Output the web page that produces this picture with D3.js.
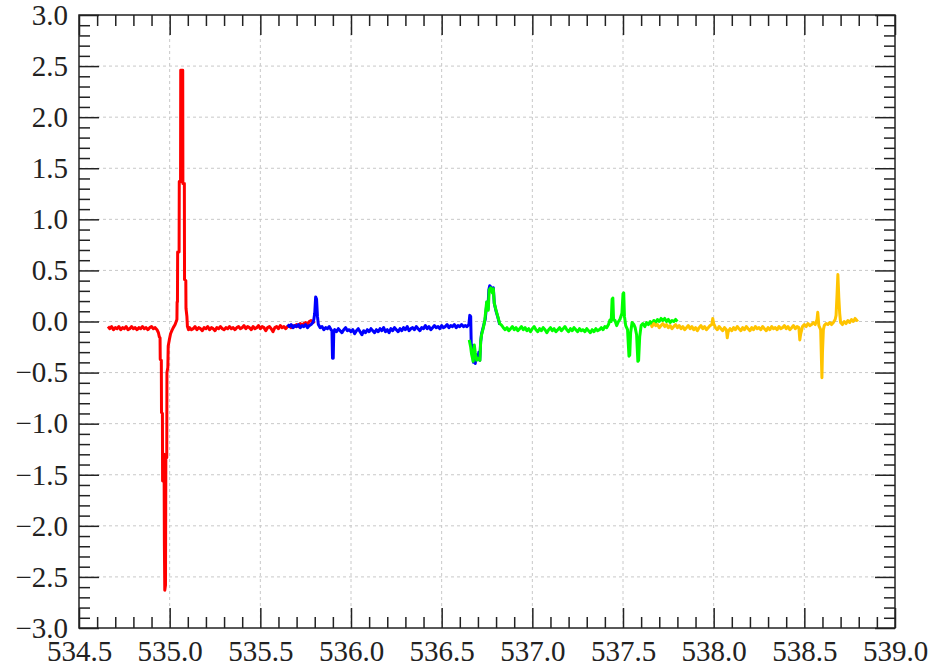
<!DOCTYPE html>
<html>
<head>
<meta charset="utf-8">
<script src="https://cdn.jsdelivr.net/npm/d3@7"></script>
<style>
  body { margin: 0; background: #fff; }
  .tick line { stroke: #222; stroke-width: 1.5; }
  .domain { display: none; }
</style>
</head>
<body>
<div id="chart"></div>
<script>
const width = 943
const height = 668
const margin = { top: 15, bottom: 40, left: 79, right: 48 }

// spectrum segments, [position, signal]
const redSeries = [
  [534.66,-0.05],[534.67,-0.07],[534.68,-0.05],[534.69,-0.08],[534.70,-0.06],[534.71,-0.07],[534.72,-0.05],
  [534.73,-0.08],[534.74,-0.06],[534.75,-0.07],[534.76,-0.05],[534.77,-0.08],[534.78,-0.07],[534.79,-0.05],
  [534.80,-0.07],[534.81,-0.06],[534.82,-0.08],[534.83,-0.06],[534.84,-0.07],[534.85,-0.05],[534.86,-0.07],
  [534.87,-0.06],[534.88,-0.08],[534.89,-0.06],[534.90,-0.05],[534.91,-0.07],[534.92,-0.06],[534.93,-0.08],
  [534.938,-0.11],[534.943,-0.15],[534.947,-0.16],[534.948,-0.37],[534.954,-0.38],[534.955,-0.89],[534.960,-0.90],
  [534.961,-1.56],[534.964,-1.40],[534.967,-1.56],[534.969,-1.30],[534.971,-2.20],[534.973,-2.63],[534.977,-2.58],
  [534.979,-1.34],[534.984,-1.33],[534.985,-0.50],[534.990,-0.45],[534.992,-0.24],[534.998,-0.18],[535.005,-0.12],
  [535.012,-0.09],[535.020,-0.06],[535.030,-0.03],[535.036,0.00],[535.040,0.02],[535.041,0.19],[535.043,0.19],
  [535.044,0.68],[535.052,0.68],[535.053,1.37],[535.060,1.37],[535.061,2.46],[535.072,2.46],[535.073,1.35],
  [535.081,1.35],[535.082,0.41],[535.089,0.40],[535.090,0.13],[535.095,0.05],[535.098,-0.05],[535.104,-0.08],
  [535.11,-0.06],[535.12,-0.08],[535.13,-0.07],[535.14,-0.05],[535.15,-0.08],[535.16,-0.06],[535.17,-0.07],
  [535.18,-0.09],[535.19,-0.06],[535.20,-0.07],[535.21,-0.05],[535.22,-0.08],[535.23,-0.06],[535.24,-0.07],
  [535.25,-0.09],[535.26,-0.06],[535.27,-0.07],[535.28,-0.05],[535.29,-0.07],[535.30,-0.08],[535.31,-0.06],
  [535.32,-0.07],[535.33,-0.05],[535.34,-0.07],[535.35,-0.06],[535.36,-0.08],[535.37,-0.06],[535.38,-0.05],
  [535.39,-0.07],[535.40,-0.06],[535.41,-0.04],[535.42,-0.07],[535.43,-0.05],[535.44,-0.06],[535.45,-0.08],
  [535.46,-0.05],[535.47,-0.07],[535.48,-0.06],[535.49,-0.04],[535.50,-0.07],[535.51,-0.05],[535.52,-0.06],
  [535.53,-0.09],[535.54,-0.06],[535.55,-0.05],[535.56,-0.07],[535.57,-0.10],[535.58,-0.06],[535.59,-0.05],
  [535.60,-0.07],[535.61,-0.04],[535.62,-0.06],[535.63,-0.05],[535.64,-0.07],[535.65,-0.05],[535.66,-0.04],
  [535.67,-0.06],[535.68,-0.04],[535.69,-0.05],[535.70,-0.03],[535.71,-0.05],[535.72,-0.02],[535.73,-0.04],
  [535.74,-0.02],[535.75,-0.01],[535.76,-0.03],[535.77,0.00],[535.78,0.01],[535.79,-0.01],[535.80,0.00]
]

const blueSeries = [
  [535.65,-0.03],[535.66,-0.05],[535.67,-0.03],[535.68,-0.06],[535.69,-0.04],[535.70,-0.05],[535.71,-0.03],
  [535.72,-0.06],[535.73,-0.04],[535.74,-0.05],[535.75,-0.03],[535.76,-0.06],[535.77,-0.04],[535.78,-0.03],
  [535.79,-0.01],[535.795,0.02],[535.80,0.08],[535.805,0.24],[535.81,0.22],[535.815,0.05],[535.82,-0.03],
  [535.83,-0.06],[535.84,-0.05],[535.85,-0.08],[535.86,-0.06],[535.87,-0.07],[535.88,-0.05],[535.89,-0.08],
  [535.895,-0.09],[535.898,-0.36],[535.902,-0.36],[535.905,-0.10],[535.91,-0.08],[535.92,-0.10],[535.93,-0.07],
  [535.94,-0.09],[535.95,-0.11],[535.96,-0.08],[535.97,-0.06],[535.98,-0.09],[535.99,-0.08],[536.00,-0.10],
  [536.01,-0.08],[536.02,-0.12],[536.03,-0.09],[536.04,-0.07],[536.05,-0.10],[536.06,-0.13],[536.07,-0.09],
  [536.08,-0.11],[536.09,-0.08],[536.10,-0.10],[536.11,-0.07],[536.12,-0.09],[536.13,-0.11],[536.14,-0.08],
  [536.15,-0.10],[536.16,-0.07],[536.17,-0.09],[536.18,-0.06],[536.19,-0.10],[536.20,-0.08],[536.21,-0.11],
  [536.22,-0.07],[536.23,-0.09],[536.24,-0.06],[536.25,-0.08],[536.26,-0.10],[536.27,-0.07],[536.28,-0.09],
  [536.29,-0.06],[536.30,-0.08],[536.31,-0.05],[536.32,-0.09],[536.33,-0.07],[536.34,-0.06],[536.35,-0.08],
  [536.36,-0.05],[536.37,-0.07],[536.38,-0.09],[536.39,-0.06],[536.40,-0.07],[536.41,-0.04],[536.42,-0.07],
  [536.43,-0.05],[536.44,-0.08],[536.45,-0.06],[536.46,-0.04],[536.47,-0.06],[536.48,-0.05],[536.49,-0.07],
  [536.50,-0.04],[536.51,-0.06],[536.52,-0.05],[536.53,-0.03],[536.54,-0.06],[536.55,-0.04],[536.56,-0.05],
  [536.57,-0.03],[536.58,-0.06],[536.59,-0.04],[536.60,-0.05],[536.61,-0.03],[536.62,-0.05],[536.63,-0.04],
  [536.64,-0.05],[536.65,-0.03],[536.655,0.06],[536.66,0.05],[536.663,-0.22],[536.67,-0.25],[536.675,-0.40],
  [536.68,-0.30],[536.685,-0.41],[536.69,-0.36],[536.70,-0.36],[536.705,-0.30],[536.71,-0.38],[536.715,-0.20],
  [536.72,-0.12],[536.73,-0.05],[536.74,0.02],[536.75,0.19],[536.755,0.12],[536.76,0.31],[536.765,0.35],
  [536.77,0.34],[536.78,0.29],[536.785,0.33],[536.79,0.18],[536.80,0.10],[536.81,0.04],[536.82,-0.03]
]

const greenSeries = [
  [536.652,-0.18],[536.66,-0.25],[536.665,-0.32],[536.674,-0.39],[536.68,-0.23],[536.685,-0.30],[536.693,-0.38],
  [536.70,-0.36],[536.706,-0.37],[536.711,-0.38],[536.715,-0.20],[536.72,-0.13],[536.73,-0.06],[536.738,0.015],
  [536.748,0.19],[536.757,0.11],[536.762,0.31],[536.77,0.33],[536.78,0.28],[536.785,0.32],[536.79,0.18],
  [536.80,0.11],[536.81,0.045],[536.82,-0.02],[536.83,-0.035],[536.84,-0.06],
  [536.85,-0.08],[536.86,-0.06],[536.87,-0.09],[536.88,-0.07],[536.89,-0.05],[536.90,-0.08],[536.91,-0.06],
  [536.92,-0.09],[536.93,-0.07],[536.94,-0.05],[536.95,-0.08],[536.96,-0.06],[536.97,-0.09],[536.98,-0.07],
  [536.99,-0.10],[537.00,-0.07],[537.01,-0.05],[537.02,-0.08],[537.03,-0.10],[537.04,-0.07],[537.05,-0.09],
  [537.06,-0.06],[537.07,-0.08],[537.08,-0.11],[537.09,-0.08],[537.10,-0.06],[537.11,-0.09],[537.12,-0.07],
  [537.13,-0.10],[537.14,-0.08],[537.15,-0.06],[537.16,-0.09],[537.17,-0.07],[537.18,-0.05],[537.19,-0.08],
  [537.20,-0.10],[537.21,-0.07],[537.22,-0.09],[537.23,-0.06],[537.24,-0.08],[537.25,-0.10],[537.26,-0.07],
  [537.27,-0.09],[537.28,-0.08],[537.29,-0.10],[537.30,-0.07],[537.31,-0.09],[537.32,-0.11],[537.33,-0.08],
  [537.34,-0.10],[537.35,-0.07],[537.36,-0.09],[537.37,-0.08],[537.38,-0.06],[537.39,-0.08],[537.40,-0.05],
  [537.41,-0.06],[537.42,-0.03],[537.428,0.015],[537.435,0.00],[537.440,0.22],[537.444,0.23],[537.448,0.02],
  [537.456,0.01],[537.465,-0.04],[537.475,0.00],[537.483,0.02],[537.494,0.08],[537.500,0.27],[537.504,0.28],
  [537.508,0.05],[537.515,-0.04],[537.525,-0.08],[537.533,-0.34],[537.537,-0.33],[537.542,-0.11],[537.55,-0.01],
  [537.56,-0.03],[537.567,-0.06],[537.575,-0.13],[537.582,-0.39],[537.586,-0.38],[537.592,-0.15],[537.60,-0.04],
  [537.61,-0.02],[537.62,-0.05],[537.63,-0.01],[537.64,-0.03],[537.65,0.00],[537.66,-0.03],[537.67,0.01],
  [537.68,-0.01],[537.69,0.02],[537.70,0.00],[537.71,0.03],[537.72,0.01],[537.73,0.03],[537.74,0.00],
  [537.75,0.02],[537.76,-0.01],[537.77,0.01],[537.78,0.00],[537.79,0.02],[537.80,0.00]
]

const yellowSeries = [
  [537.655,-0.03],[537.66,-0.05],[537.67,-0.02],[537.68,-0.04],[537.69,-0.03],[537.70,-0.06],[537.71,-0.04],
  [537.72,-0.02],[537.73,-0.05],[537.74,-0.03],[537.75,-0.06],[537.76,-0.04],[537.77,-0.07],[537.78,-0.05],
  [537.79,-0.03],[537.80,-0.06],[537.81,-0.04],[537.82,-0.07],[537.83,-0.05],[537.84,-0.08],[537.85,-0.06],
  [537.86,-0.04],[537.87,-0.07],[537.88,-0.05],[537.89,-0.08],[537.90,-0.06],[537.91,-0.09],[537.92,-0.06],
  [537.93,-0.04],[537.94,-0.07],[537.95,-0.05],[537.96,-0.08],[537.97,-0.06],[537.98,-0.04],[537.99,-0.03],
  [537.995,0.03],[538.00,-0.02],[538.01,-0.06],[538.02,-0.08],[538.03,-0.05],[538.04,-0.07],[538.05,-0.09],
  [538.06,-0.06],[538.07,-0.08],[538.075,-0.16],[538.08,-0.10],[538.09,-0.07],[538.10,-0.09],[538.11,-0.06],
  [538.12,-0.08],[538.13,-0.05],[538.14,-0.07],[538.15,-0.09],[538.16,-0.06],[538.17,-0.08],[538.18,-0.05],
  [538.19,-0.07],[538.20,-0.09],[538.21,-0.06],[538.22,-0.08],[538.23,-0.05],[538.24,-0.07],[538.25,-0.06],
  [538.26,-0.08],[538.27,-0.05],[538.28,-0.07],[538.29,-0.09],[538.30,-0.06],[538.31,-0.08],[538.32,-0.05],
  [538.33,-0.07],[538.34,-0.06],[538.35,-0.08],[538.36,-0.05],[538.37,-0.07],[538.38,-0.06],[538.39,-0.04],
  [538.40,-0.07],[538.41,-0.05],[538.42,-0.08],[538.43,-0.06],[538.44,-0.04],[538.45,-0.07],[538.46,-0.05],
  [538.47,-0.06],[538.475,-0.18],[538.48,-0.12],[538.49,-0.05],[538.50,-0.03],[538.51,-0.05],[538.52,-0.02],
  [538.53,-0.04],[538.54,-0.03],[538.55,-0.01],[538.56,-0.03],[538.57,0.02],[538.574,0.09],[538.58,-0.04],
  [538.59,-0.08],[538.597,-0.55],[538.60,-0.30],[538.605,-0.08],[538.61,-0.04],[538.62,-0.02],[538.63,-0.03],
  [538.64,-0.01],[538.65,-0.03],[538.66,-0.01],[538.67,0.02],[538.675,0.06],[538.68,0.25],[538.685,0.46],
  [538.69,0.24],[538.695,0.08],[538.70,-0.01],[538.71,-0.03],[538.72,0.00],[538.73,-0.02],[538.74,0.01],
  [538.75,-0.01],[538.76,0.02],[538.77,0.00],[538.78,0.03],[538.79,0.01],[538.795,0.02]
]

const seriesColors = ["#ff0000", "#0000ff", "#00ff00", "#ffc400"]
const xTicks = [534.5, 535.0, 535.5, 536.0, 536.5, 537.0, 537.5, 538.0, 538.5, 539.0]
const yTicks = [-3.0, -2.5, -2.0, -1.5, -1.0, -0.5, 0.0, 0.5, 1.0, 1.5, 2.0, 2.5, 3.0]

const innerW = width - margin.left - margin.right
const innerH = height - margin.top - margin.bottom
const labelFont = "'Liberation Serif', 'Times New Roman', serif"

const svg = d3.select("div#chart").append("svg").attr("width", width).attr("height", height)

const x = d3.scaleLinear().domain([534.5, 539.0]).range([0, innerW])
const y = d3.scaleLinear().domain([-3, 3]).range([innerH, 0])

const plot = svg.append("g").attr("transform", `translate(${margin.left}, ${margin.top})`)

// dashed grid at the major ticks
const grid = plot.append("g").attr("class", "grid")
grid.selectAll("line.gx").data(xTicks.slice(1, -1)).join("line")
    .attr("class", "gx")
    .attr("x1", d => x(d)).attr("x2", d => x(d)).attr("y1", 0).attr("y2", innerH)
grid.selectAll("line.gy").data(yTicks.slice(1, -1)).join("line")
    .attr("class", "gy")
    .attr("y1", d => y(d)).attr("y2", d => y(d)).attr("x1", 0).attr("x2", innerW)
grid.selectAll("line").attr("stroke", "#c8c8c8").attr("stroke-width", 1).attr("stroke-dasharray", "3,3")

// spectra
const line = d3.line().x(d => x(d[0])).y(d => y(d[1]))
const allSeries = [redSeries, blueSeries, greenSeries, yellowSeries]
plot.selectAll("path.spec").data(allSeries).join("path")
    .attr("class", "spec")
    .attr("d", line)
    .attr("fill", "none")
    .attr("stroke", (d, i) => seriesColors[i])
    .attr("stroke-width", 3)
    .attr("stroke-linejoin", "round")

// axes, ticks inward on all four sides
const fmt = d3.format(".1f")
const minorX = d3.range(5345, 5391).map(d => d / 10).filter(d => !xTicks.some(t => Math.abs(t - d) < 1e-6))
const minorY = d3.range(-30, 31).map(d => d / 10).filter(d => !yTicks.some(t => Math.abs(t - d) < 1e-6))

const xAxisGroup = plot.append("g").attr("transform", `translate(0, ${innerH})`)
    .call(d3.axisBottom(x).tickValues(xTicks).tickFormat(fmt).tickSize(-20).tickPadding(12))
plot.append("g").attr("transform", `translate(0, ${innerH})`)
    .call(d3.axisBottom(x).tickValues(minorX).tickFormat("").tickSize(-11))
plot.append("g")
    .call(d3.axisTop(x).tickValues(xTicks).tickFormat("").tickSize(-20))
plot.append("g")
    .call(d3.axisTop(x).tickValues(minorX).tickFormat("").tickSize(-11))

const yAxisGroup = plot.append("g")
    .call(d3.axisLeft(y).tickValues(yTicks).tickFormat(fmt).tickSize(-20).tickPadding(11))
plot.append("g")
    .call(d3.axisLeft(y).tickValues(minorY).tickFormat("").tickSize(-11))
plot.append("g").attr("transform", `translate(${innerW}, 0)`)
    .call(d3.axisRight(y).tickValues(yTicks).tickFormat("").tickSize(-20))
plot.append("g").attr("transform", `translate(${innerW}, 0)`)
    .call(d3.axisRight(y).tickValues(minorY).tickFormat("").tickSize(-11))

for (const g of [xAxisGroup, yAxisGroup]) {
    g.attr("font-family", labelFont).attr("font-size", 29)
    g.selectAll("text").style("font-family", labelFont).style("font-size", "29px").attr("fill", "#222")
}

plot.append("rect")
    .attr("width", innerW).attr("height", innerH)
    .attr("fill", "none").attr("stroke", "#222").attr("stroke-width", 1.5)
</script>
</body>
</html>
